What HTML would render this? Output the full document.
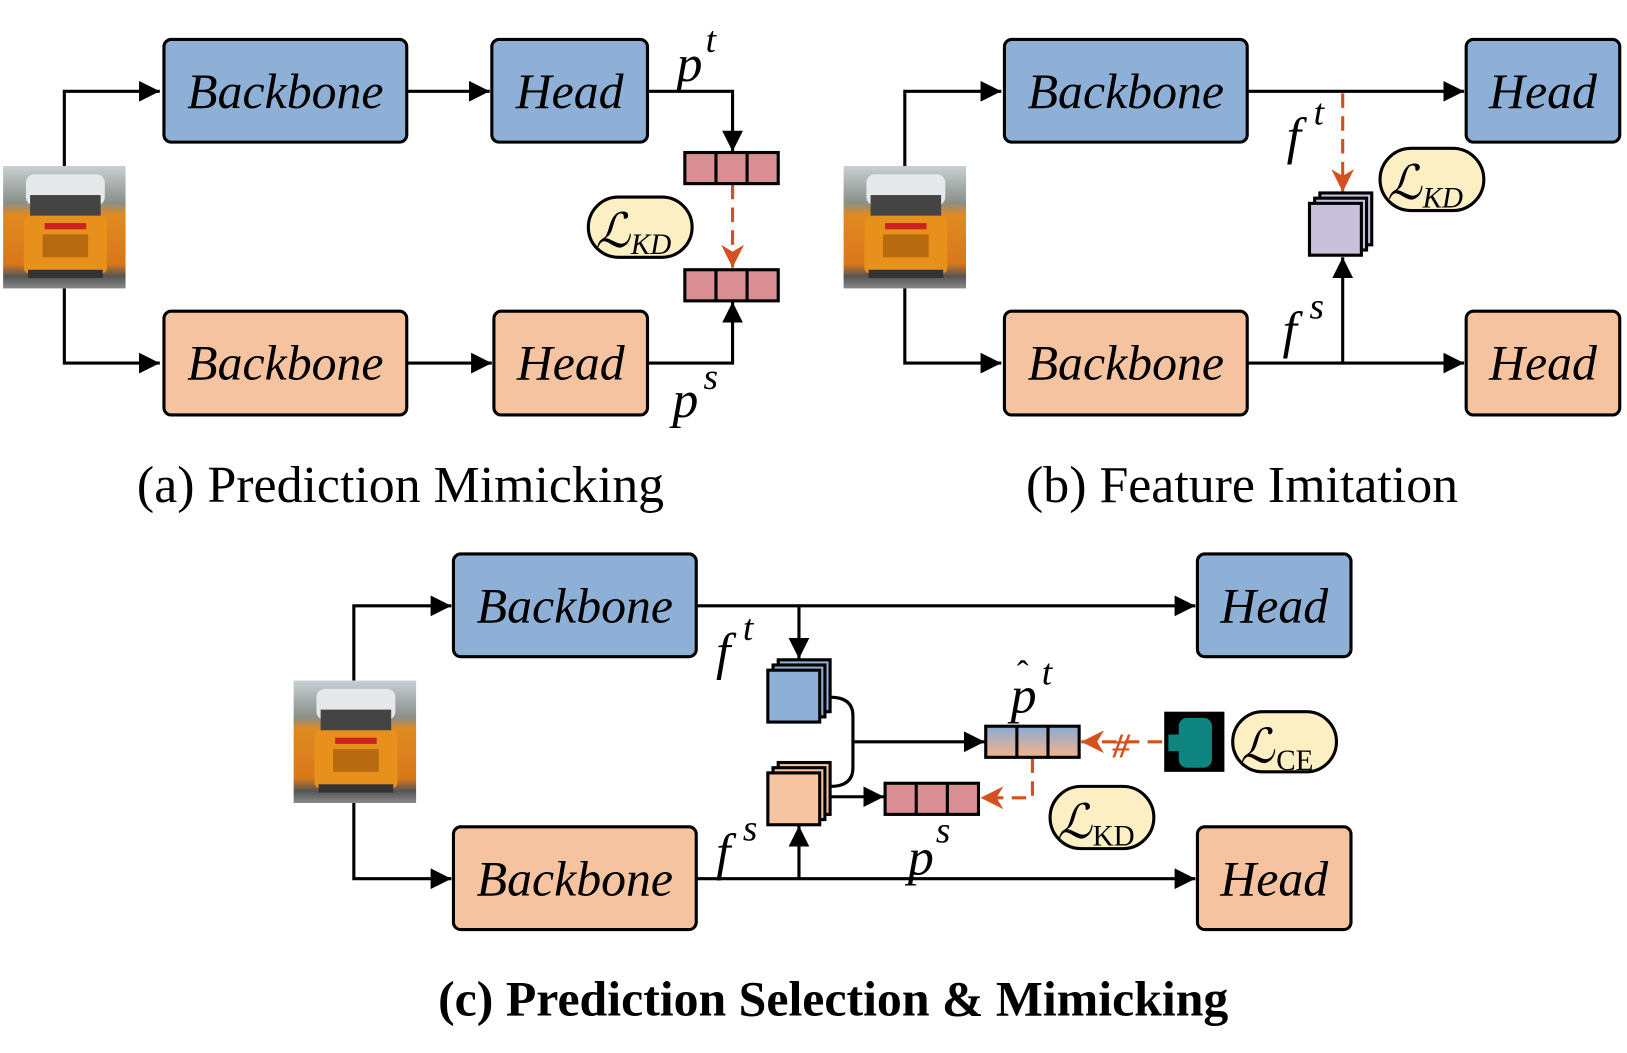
<!DOCTYPE html>
<html><head><meta charset="utf-8"><style>
html,body{margin:0;padding:0;background:#fff;}
svg{display:block;}
text{font-family:"Liberation Serif",serif;}
.lbl{font-style:italic;font-size:48px;}
.m{font-style:italic;font-size:50px;}
</style></head><body>
<svg width="1627" height="1053" viewBox="0 0 1568 1015" preserveAspectRatio="none" xmlns="http://www.w3.org/2000/svg">
<defs>
<marker id="ab" viewBox="0 0 10 10" refX="10" refY="5" markerWidth="20" markerHeight="20" orient="auto" markerUnits="userSpaceOnUse"><path d="M0,0L10,5L0,10z" fill="#000"/></marker>
<marker id="ao" viewBox="0 0 10 10" refX="10" refY="5" markerWidth="22" markerHeight="22" orient="auto" markerUnits="userSpaceOnUse"><path d="M0,0L10,5L0,10L3,5z" fill="#d4501e"/></marker>
<linearGradient id="g" x1="0" y1="0" x2="0" y2="1"><stop offset="0" stop-color="#89aad6"/><stop offset="1" stop-color="#f6b488"/></linearGradient>
<linearGradient id="bus" x1="0" y1="0" x2="0" y2="1"><stop offset="0" stop-color="#c8d0d4"/><stop offset="0.3" stop-color="#8a8f88"/><stop offset="0.4" stop-color="#e08a20"/><stop offset="0.8" stop-color="#d9781a"/><stop offset="0.9" stop-color="#555"/><stop offset="1" stop-color="#888"/></linearGradient>
<g id="busimg"><rect width="118" height="118" fill="url(#bus)"/><rect x="22" y="8" width="76" height="30" rx="8" fill="#e6e9ea"/><rect x="26" y="28" width="68" height="20" fill="#444"/><rect x="20" y="48" width="80" height="56" rx="6" fill="#e8901c"/><rect x="40" y="55" width="40" height="6" fill="#c22"/><rect x="38" y="66" width="44" height="22" fill="#b86a10"/><rect x="24" y="100" width="72" height="8" fill="#333"/></g>
<g id="stack"><rect x="10" y="0" width="50" height="50"/><rect x="5" y="5" width="50" height="50"/><rect x="0" y="10" width="50" height="50"/></g>
</defs>
<g stroke="#000" stroke-width="3" fill="none">
<polyline points="62,160 62,88 154,88" marker-end="url(#ab)"/>
<polyline points="62,278 62,350 154,350" marker-end="url(#ab)"/>
<line x1="392" y1="88" x2="472" y2="88" marker-end="url(#ab)"/>
<line x1="392" y1="350" x2="474" y2="350" marker-end="url(#ab)"/>
<polyline points="624,88 706,88 706,146" marker-end="url(#ab)"/>
<polyline points="624,350 706,350 706,291" marker-end="url(#ab)"/>
<polyline points="872,160 872,88 965,88" marker-end="url(#ab)"/>
<polyline points="872,278 872,350 965,350" marker-end="url(#ab)"/>
<line x1="1202" y1="88" x2="1411" y2="88" marker-end="url(#ab)"/>
<line x1="1202" y1="350" x2="1411" y2="350" marker-end="url(#ab)"/>
<line x1="1294" y1="350" x2="1294" y2="248" marker-end="url(#ab)"/>
<polyline points="341,656 341,584 435,584" marker-end="url(#ab)"/>
<polyline points="341,774 341,847 435,847" marker-end="url(#ab)"/>
<line x1="671" y1="584" x2="1152" y2="584" marker-end="url(#ab)"/>
<line x1="671" y1="847" x2="1152" y2="847" marker-end="url(#ab)"/>
<line x1="770" y1="584" x2="770" y2="635" marker-end="url(#ab)"/>
<line x1="770" y1="847" x2="770" y2="796" marker-end="url(#ab)"/>
<path d="M800,672 Q822,672 822,690 L822,740 Q822,758 800,758"/>
<line x1="822" y1="715" x2="949" y2="715" marker-end="url(#ab)"/>
<line x1="800" y1="768" x2="852" y2="768" marker-end="url(#ab)"/>
</g>
<g stroke="#d4501e" stroke-width="3" fill="none" stroke-dasharray="14,8">
<line x1="706" y1="178" x2="706" y2="258" marker-end="url(#ao)"/>
<line x1="1294" y1="90" x2="1294" y2="185" marker-end="url(#ao)"/>
<line x1="1120" y1="715" x2="1042" y2="715" marker-end="url(#ao)"/>
<polyline points="995,731 995,769 945,769" marker-end="url(#ao)"/>
</g>
<text x="1072" y="730" font-size="34" fill="#d4501e" font-style="italic" font-weight="bold">#</text>
<g stroke="#000" stroke-width="3">
<rect x="158" y="38" width="234" height="99" rx="7" fill="#8eb0d6"/>
<rect x="474" y="38" width="150" height="99" rx="7" fill="#8eb0d6"/>
<rect x="158" y="300" width="234" height="100" rx="7" fill="#f5c3a0"/>
<rect x="476" y="300" width="148" height="100" rx="7" fill="#f5c3a0"/>
<rect x="968" y="38" width="234" height="99" rx="7" fill="#8eb0d6"/>
<rect x="1413" y="38" width="148" height="99" rx="7" fill="#8eb0d6"/>
<rect x="968" y="300" width="234" height="100" rx="7" fill="#f5c3a0"/>
<rect x="1413" y="300" width="148" height="100" rx="7" fill="#f5c3a0"/>
<rect x="437" y="534" width="234" height="99" rx="7" fill="#8eb0d6"/>
<rect x="1154" y="534" width="148" height="99" rx="7" fill="#8eb0d6"/>
<rect x="437" y="797" width="234" height="99" rx="7" fill="#f5c3a0"/>
<rect x="1154" y="797" width="148" height="99" rx="7" fill="#f5c3a0"/>
<g fill="#d98e93"><rect x="660" y="147" width="90" height="30"/><rect x="660" y="260" width="90" height="30"/><rect x="853" y="755" width="90" height="30"/></g>
<rect x="950" y="700" width="90" height="30" fill="url(#g)"/>
<g fill="none"><path d="M690,147v30M720,147v30M690,260v30M720,260v30M883,755v30M913,755v30M980,700v30M1010,700v30"/></g>
<use href="#stack" x="1262" y="186" fill="#c9c0dc"/>
<use href="#stack" x="740" y="636" fill="#8eb0d6"/>
<use href="#stack" x="740" y="735" fill="#f5c3a0"/>
<g fill="#fdefc4"><rect x="567" y="190" width="100" height="58" rx="29"/><rect x="1330" y="143" width="100" height="60" rx="30"/><rect x="1188" y="686" width="100" height="58" rx="29"/><rect x="1012" y="758" width="100" height="60" rx="30"/></g>
</g>
<use href="#busimg" x="3" y="160"/>
<use href="#busimg" x="813" y="160"/>
<use href="#busimg" x="283" y="656"/>
<rect x="1122" y="686" width="58" height="58" fill="#000"/>
<rect x="1136" y="692" width="32" height="48" rx="8" fill="#0e8580"/>
<rect x="1126" y="708" width="12" height="16" fill="#0e8580"/>
<g text-anchor="middle" class="lbl">
<text x="275" y="104">Backbone</text><text x="549" y="104">Head</text>
<text x="275" y="366">Backbone</text><text x="550" y="366">Head</text>
<text x="1085" y="104">Backbone</text><text x="1487" y="104">Head</text>
<text x="1085" y="366">Backbone</text><text x="1487" y="366">Head</text>
<text x="554" y="600">Backbone</text><text x="1228" y="600">Head</text>
<text x="554" y="863">Backbone</text><text x="1228" y="863">Head</text>
</g>
<g class="m">
<text x="652" y="78">p</text><text x="680" y="50" font-size="36">t</text>
<text x="648" y="402">p</text><text x="678" y="375" font-size="36">s</text>
<text x="1240" y="148">f</text><text x="1266" y="120" font-size="36">t</text>
<text x="1236" y="335">f</text><text x="1262" y="307" font-size="36">s</text>
<text x="690" y="645">f</text><text x="716" y="617" font-size="36">t</text>
<text x="690" y="838">f</text><text x="716" y="810" font-size="36">s</text>
<text x="875" y="843">p</text><text x="902" y="812" font-size="36">s</text>
<text x="974" y="687">p</text><text x="980" y="660" font-size="34" font-style="normal">ˆ</text><text x="1004" y="660" font-size="36">t</text>
<text x="574" y="238" font-size="46">ℒ</text><text x="608" y="245" font-size="28">KD</text>
<text x="1337" y="192" font-size="46">ℒ</text><text x="1371" y="200" font-size="28">KD</text>
<text x="1195" y="735" font-size="46">ℒ</text><text x="1230" y="742" font-size="28" font-style="normal">CE</text>
<text x="1019" y="808" font-size="46">ℒ</text><text x="1053" y="815" font-size="28" font-style="normal">KD</text>
</g>
<g font-size="50" text-anchor="middle">
<text x="386" y="484">(a) Prediction Mimicking</text>
<text x="1197" y="484">(b) Feature Imitation</text>
<text x="803" y="979" font-weight="bold" font-size="48">(c) Prediction Selection &amp; Mimicking</text>
</g>
</svg>
</body></html>
